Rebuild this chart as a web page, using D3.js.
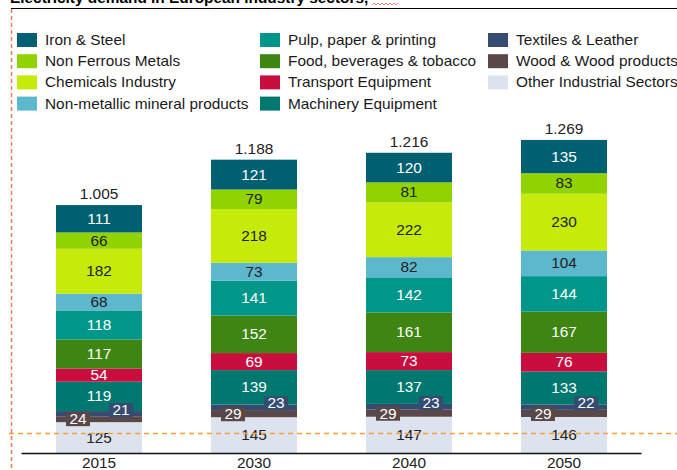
<!DOCTYPE html>
<html>
<head>
<meta charset="utf-8">
<script src="https://cdn.jsdelivr.net/npm/d3@7"></script>
<style>
  html, body { margin: 0; padding: 0; background: #fff; }
  svg { display: block; font-family: "Liberation Sans", Arial, sans-serif; }
</style>
</head>
<body>
<svg id="chart" width="677" height="470"></svg>
<script>
// Electricity demand by industry sector (TWh), stacked bottom-to-top
const years = ["2015", "2030", "2040", "2050"];
const sectors = [
  "Other Industrial Sectors", "Wood & Wood products", "Textiles & Leather",
  "Machinery Equipment", "Transport Equipment", "Food, beverages & tobacco",
  "Pulp, paper & printing", "Non-metallic mineral products", "Chemicals Industry",
  "Non Ferrous Metals", "Iron & Steel"
];
const otherSectors   = [125, 145, 147, 146];
const woodProducts   = [24, 29, 29, 29];
const textiles       = [21, 23, 23, 22];
const machinery      = [119, 139, 137, 133];
const transport      = [54, 69, 73, 76];
const food           = [117, 152, 161, 167];
const pulpPaper      = [118, 141, 142, 144];
const nonMetallic    = [68, 73, 82, 104];
const chemicals      = [182, 218, 222, 230];
const nonFerrous     = [66, 79, 81, 83];
const ironSteel      = [111, 121, 120, 135];
const totals         = [1005, 1188, 1216, 1269];

const seriesValues = [otherSectors, woodProducts, textiles, machinery, transport,
  food, pulpPaper, nonMetallic, chemicals, nonFerrous, ironSteel];

const colors = {
  "Iron & Steel": "#006072",
  "Non Ferrous Metals": "#91d300",
  "Chemicals Industry": "#c6ea0a",
  "Non-metallic mineral products": "#5db8cd",
  "Pulp, paper & printing": "#00978a",
  "Food, beverages & tobacco": "#3e8511",
  "Transport Equipment": "#c70e3f",
  "Machinery Equipment": "#007870",
  "Textiles & Leather": "#354b6f",
  "Wood & Wood products": "#5a4848",
  "Other Industrial Sectors": "#dce3ee"
};
const darkText = new Set(["Non Ferrous Metals", "Chemicals Industry",
  "Non-metallic mineral products", "Other Industrial Sectors"]);

const legendColumns = [
  ["Iron & Steel", "Non Ferrous Metals", "Chemicals Industry", "Non-metallic mineral products"],
  ["Pulp, paper & printing", "Food, beverages & tobacco", "Transport Equipment", "Machinery Equipment"],
  ["Textiles & Leather", "Wood & Wood products", "Other Industrial Sectors"]
];

const table = years.map((yr, i) => {
  const row = { year: yr };
  sectors.forEach((s, k) => row[s] = seriesValues[k][i]);
  return row;
});

const svg = d3.select("#chart");
const baseY = 453;
const stretch = 1.1; // slightly wide lettering

// text helper: positions text at (tx, ty) with a horizontal stretch
function label(parent, tx, ty, str, opts = {}) {
  return parent.append("text")
    .attr("transform", `translate(${tx},${ty}) scale(${stretch},1)`)
    .attr("text-anchor", opts.anchor || "start")
    .attr("font-size", opts.size || 14)
    .attr("font-weight", opts.weight || "normal")
    .attr("fill", opts.fill || "#222")
    .text(str);
}

const x = d3.scaleBand().domain(years).range([21.5, 641.5])
  .paddingInner(0.445).paddingOuter(0.2225);
const y = d3.scaleLinear().domain([0, 1300]).range([baseY, baseY - 1300 * 0.2467]);

const stacked = d3.stack().keys(sectors)(table);

// title (partly above the page edge) and its rule
label(svg, 10, 3, "Electricity demand in European industry sectors,", { weight: "bold", fill: "#000" });
svg.append("path")
  .attr("d", d3.range(0, 28, 2).map((d, i) => (i ? "L" : "M") + (372 + d) + "," + (i % 2 ? 3 : 5)).join(""))
  .attr("fill", "none").attr("stroke", "#e8625a").attr("stroke-width", 0.8);
svg.append("line").attr("x1", 11).attr("x2", 677).attr("y1", 8.5).attr("y2", 8.5)
  .attr("stroke", "#000").attr("stroke-width", 1.2);

// legend
legendColumns.forEach((col, c) => {
  const lx = [17, 260, 488][c];
  col.forEach((name, r) => {
    const ly = 40 + r * 21.2;
    svg.append("rect").attr("x", lx).attr("y", ly - 7).attr("width", 20).attr("height", 14)
      .attr("fill", colors[name]);
    label(svg, lx + 28, ly + 5, name, { fill: "#1a1a1a" });
  });
});

// stacked bars
const layers = svg.append("g").selectAll("g").data(stacked).join("g")
  .attr("fill", d => colors[d.key]);
layers.selectAll("rect").data(d => d).join("rect")
  .attr("x", d => x(d.data.year))
  .attr("width", x.bandwidth())
  .attr("y", d => y(d[1]))
  .attr("height", d => y(d[0]) - y(d[1]));

// segment value labels
stacked.forEach(layer => {
  const name = layer.key;
  layer.forEach(d => {
    const v = d[1] - d[0];
    const x0 = x(d.data.year);
    if (name === "Wood & Wood products" || name === "Textiles & Leather") {
      const isWood = name === "Wood & Wood products";
      const cx = isWood ? x0 + 22 : x0 + 65;
      const cy = isWood ? y(d[0]) - 3 : y(d[1]) - 1;
      svg.append("rect").attr("x", cx - 12).attr("y", cy - 7)
        .attr("width", 24).attr("height", 14).attr("fill", colors[name]);
      label(svg, cx, cy + 5, v, { anchor: "middle", fill: "#fff" });
    } else {
      label(svg, x0 + x.bandwidth() / 2, (y(d[0]) + y(d[1])) / 2 + 5, v,
        { anchor: "middle", fill: darkText.has(name) ? "#222" : "#fff" });
    }
  });
});

// totals above each bar
const fmtTotal = v => d3.format(",")(v).replace(/,/g, ".");
years.forEach((yr, i) => {
  const top = stacked[stacked.length - 1][i][1];
  label(svg, x(yr) + x.bandwidth() / 2, y(top) - 6, fmtTotal(totals[i]), { anchor: "middle" });
});

// baseline and year labels
svg.append("line").attr("x1", 21.5).attr("x2", 641.5).attr("y1", baseY + 0.5).attr("y2", baseY + 0.5)
  .attr("stroke", "#111").attr("stroke-width", 1.5);
const xAxis = d3.axisBottom(x).tickSize(0).tickPadding(5);
const ax = svg.append("g").attr("transform", `translate(0,${baseY})`).call(xAxis);
ax.select(".domain").remove();
ax.selectAll("text").attr("font-size", 14).attr("fill", "#222")
  .attr("font-family", "Liberation Sans, Arial, sans-serif")
  .attr("transform", `scale(${stretch},1)`);

// guide lines
svg.append("line").attr("x1", 9).attr("x2", 677).attr("y1", 433.5).attr("y2", 433.5)
  .attr("stroke", "#f7a03c").attr("stroke-width", 1.4).attr("stroke-dasharray", "5,4");
svg.append("line").attr("x1", 11.5).attr("x2", 11.5).attr("y1", 9).attr("y2", 470)
  .attr("stroke", "#f47a58").attr("stroke-width", 1.5).attr("stroke-dasharray", "4,3");
</script>
</body>
</html>
